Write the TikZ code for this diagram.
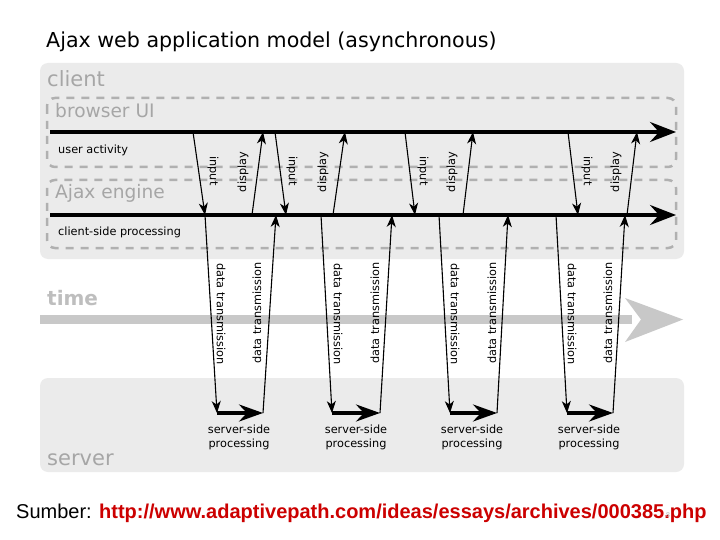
\documentclass[tikz,border=0pt]{standalone}
\usepackage{fontspec}
\setmainfont{DejaVu Sans}
\newfontfamily\arialfont{Liberation Sans}
\usetikzlibrary{arrows.meta}
\definecolor{boxfill}{HTML}{EBEBEB}
\definecolor{dashgray}{HTML}{B0B0B0}
\definecolor{labgray}{HTML}{A6A6A6}
\definecolor{timegray}{HTML}{C8C8C8}
\definecolor{timetext}{HTML}{BEBEBE}
\definecolor{urlred}{HTML}{CC0000}
\begin{document}
\begin{tikzpicture}[x=1pt,y=-1pt,
  areabox/.style={fill=boxfill, rounded corners=8pt, draw=none},
  layerbox/.style={draw=dashgray, line width=2.5pt, dash pattern=on 8pt off 7pt, rounded corners=8pt},
  biglabel/.style={text=labgray, font=\fontsize{21}{24}\selectfont, inner sep=0pt, anchor=base west},
  layerlabel/.style={text=labgray, font=\fontsize{18.6}{22}\selectfont, inner sep=0pt, anchor=base west},
  smalltext/.style={font=\fontsize{11.3}{14}\selectfont, inner sep=0pt},
  mainline/.style={line width=3.5pt, -{Stealth[length=26pt,width=20pt,inset=9pt]}},
  serverline/.style={line width=3.5pt, -{Stealth[length=24pt,width=17pt,inset=8pt]}},
  msg/.style={line width=1.1pt, -{Stealth[length=12pt,width=9pt,inset=3.5pt]}},
]
\useasboundingbox (0,0) rectangle (720,540);
\fill[white] (0,0) rectangle (720,540);

% title
\node[anchor=base west, inner sep=0pt, font=\fontsize{20.6}{24}\selectfont] (title) at (46,48) {Ajax web application model (asynchronous)};

% areas
\fill[areabox] (40,63) rectangle (684,259);
\fill[areabox] (40,378) rectangle (684,472);
\draw[layerbox] (47,98) rectangle (676,167);
\draw[layerbox] (47,180) rectangle (676,248);

\node[biglabel] (client) at (47,87) {client};
\node[layerlabel] (bui) at (55,118) {browser UI};
\node[layerlabel] (aje) at (55,199) {Ajax engine};
\node[smalltext, anchor=west] (ua) at (58,150) {user activity};
\node[smalltext, anchor=west] (csp) at (58,232) {client-side processing};
\node[biglabel, text=timetext, font=\bfseries\fontsize{20}{24}\selectfont] (time) at (47,305) {time};
\node[biglabel] (server) at (47,465) {server};

% time arrow
\coordinate (t0) at (40,319.5);
\coordinate (t1) at (632,319.5);
\draw[timegray, line width=9pt] (t0) -- (t1);
\fill[timegray] (625,298) -- (683,319.5) -- (625,342) -- (641,319.5) -- cycle;

% coordinates
\foreach \n/\x/\y in {
  i1a/193/132, i1b/205/215, d1a/252/215, d1b/263/132,
  i2a/275/132, i2b/286/215, d2a/333/215, d2b/345/132,
  i3a/405/132, i3b/415/215, d3a/463/215, d3b/473/132,
  i4a/568/132, i4b/578/215, d4a/627/215, d4b/637/132,
  n1a/205/215, n1b/217/413, s1b/263/413, u1b/276/215,
  n2a/321/215, n2b/332/413, s2b/380/413, u2b/392/215,
  n3a/439/215, n3b/450/413, s3b/497/413, u3b/508/215,
  n4a/556/215, n4b/567/413, s4b/613/413, u4b/625/215,
  ua0/50/132, ua1/676/132, cs0/50/215, cs1/676/215}
  \coordinate (\n) at (\x,\y);

% messages
\foreach \k in {1,2,3,4}{
  \draw[msg] (i\k a) -- (i\k b);
  \draw[msg] (d\k a) -- (d\k b);
  \draw[msg] (n\k a) -- (n\k b);
  \draw[msg] (s\k b) -- (u\k b);
  \draw[serverline] (n\k b) -- (s\k b);
}

% main timelines
\draw[mainline] (ua0) -- (ua1);
\draw[mainline] (cs0) -- (cs1);

% input/display labels
\foreach \k/\xi/\xd in {1/213/243, 2/292/323, 3/423/452, 4/587/616}{
  \node[smalltext, rotate=-90] (lin\k) at (\xi,171) {input};
  \node[smalltext, rotate=90] (ldi\k) at (\xd,172) {display};
}

% data transmission labels
\foreach \k/\xa/\xb in {1/221/257, 2/338/375, 3/455/492, 4/572/608}{
  \node[smalltext, rotate=-90] (ldn\k) at (\xa,314) {data transmission};
  \node[smalltext, rotate=90] (lup\k) at (\xb,313) {data transmission};
}

% server-side processing labels
\foreach \k/\x in {1/239, 2/356, 3/472, 4/589}{
  \node[smalltext, align=center] (ssp\k) at (\x,437) {server-side\\processing};
}

% source
\node[anchor=base west, inner sep=0pt, font=\arialfont\fontsize{20}{24}\selectfont] (src) at (16,518) {Sumber: \textcolor{urlred}{\bfseries http://www.adaptivepath.com/ideas/essays/archives/000385.php}};
\node[font=\arialfont\fontsize{7}{8}\selectfont, text=black!30, inner sep=0pt] (pg) at (668,515) {8};
\end{tikzpicture}
\end{document}
